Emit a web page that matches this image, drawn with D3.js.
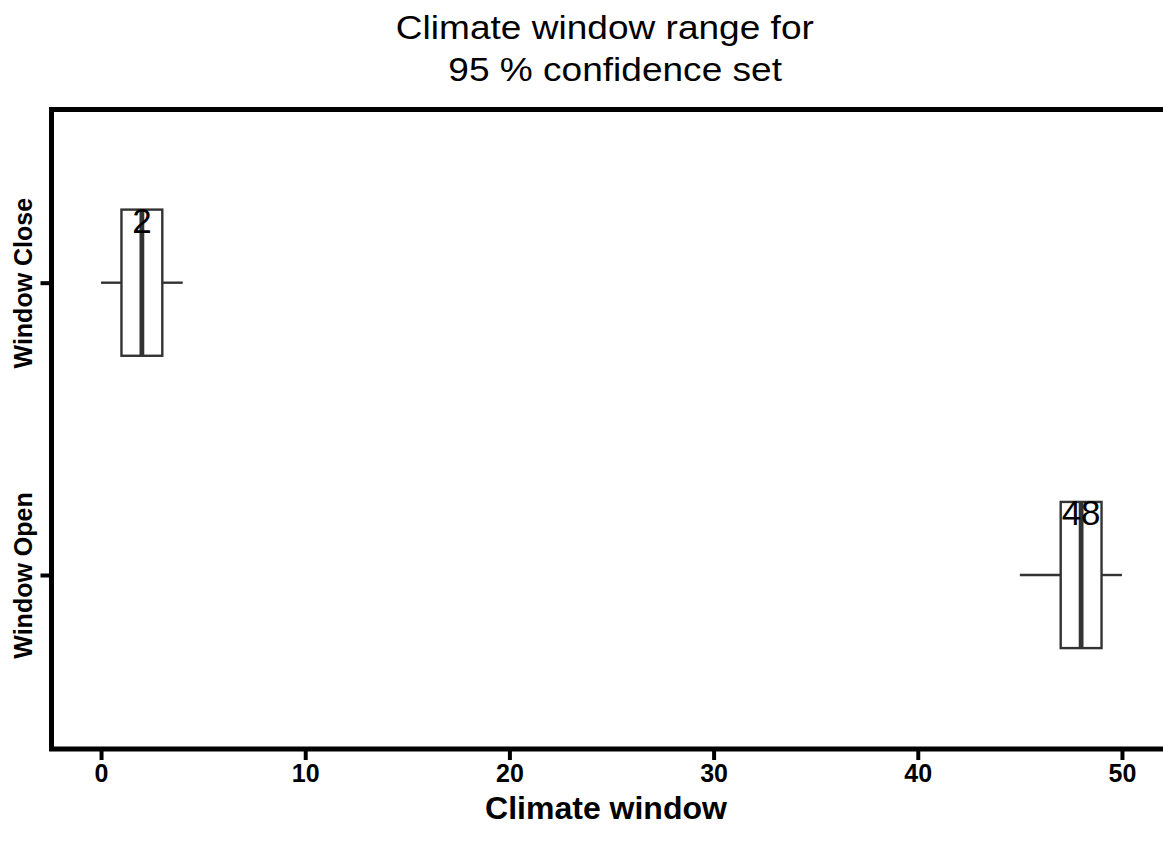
<!DOCTYPE html>
<html>
<head>
<meta charset="utf-8">
<script src="https://cdn.jsdelivr.net/npm/d3@7"></script>
<style>
  html, body { margin: 0; padding: 0; background: #fff; }
  svg { display: block; font-family: "Liberation Sans", Arial, Helvetica, sans-serif; }
  .pre { white-space: pre; }
</style>
</head>
<body>
<svg id="chart" width="1163" height="842"></svg>
<script>
// Window categories (top to bottom)
const categories = ["Window Close", "Window Open"];
// Box summary per category: whisker low, lower hinge, median, upper hinge, whisker high
const whiskerLow  = [0, 45];
const lowerHinge  = [1, 47];
const medians     = [2, 48];
const upperHinge  = [3, 49];
const whiskerHigh = [4, 50];
const xTicks = [0, 10, 20, 30, 40, 50];

const titleLines = ["Climate window range for ", " 95 % confidence set"];
const xTitle = "Climate window";

const svg = d3.select("#chart");

const panel = { left: 51.5, top: 109.5, right: 1175, bottom: 749 };

const x = d3.scaleLinear().domain([-2.5, 52.5]).range([50, 1173]);
const y = d3.scalePoint().domain(categories).range([107.3, 750.4]).padding(0.6);
const boxH = y.step() * 0.5;

const rows = categories.map((c, i) => ({
  cat: c, lo: whiskerLow[i], q1: lowerHinge[i], med: medians[i],
  q3: upperHinge[i], hi: whiskerHigh[i]
}));

// Title, slightly widened glyphs
const sx = 1.09;
svg.append("g").attr("transform", `scale(${sx},1)`)
  .selectAll("text").data(titleLines).join("text")
  .attr("class", "pre")
  .attr("x", 610 / sx).attr("y", (d, i) => 39 + i * 42.5)
  .attr("text-anchor", "middle")
  .attr("font-size", 34).attr("fill", "#000")
  .text(d => d);

// Boxes
const g = svg.append("g");
rows.forEach(r => {
  const cy = y(r.cat);
  // whiskers
  g.append("line").attr("x1", x(r.lo)).attr("x2", x(r.q1)).attr("y1", cy).attr("y2", cy)
    .attr("stroke", "#333").attr("stroke-width", 2.4);
  g.append("line").attr("x1", x(r.q3)).attr("x2", x(r.hi)).attr("y1", cy).attr("y2", cy)
    .attr("stroke", "#333").attr("stroke-width", 2.4);
  // box
  g.append("rect").attr("x", x(r.q1)).attr("y", cy - boxH / 2)
    .attr("width", x(r.q3) - x(r.q1)).attr("height", boxH)
    .attr("fill", "#fff").attr("stroke", "#333").attr("stroke-width", 2.4);
  // median
  g.append("line").attr("x1", x(r.med)).attr("x2", x(r.med))
    .attr("y1", cy - boxH / 2).attr("y2", cy + boxH / 2)
    .attr("stroke", "#333").attr("stroke-width", 4.8);
  // median label
  g.append("text").attr("x", x(r.med)).attr("y", cy - 50)
    .attr("text-anchor", "middle").attr("font-size", 35).attr("fill", "#000")
    .text(r.med);
});

// Panel border (left, top, bottom)
svg.append("path")
  .attr("d", `M${panel.right},${panel.top}H${panel.left}V${panel.bottom}H${panel.right}`)
  .attr("fill", "none").attr("stroke", "#000").attr("stroke-width", 5);

// X axis
const xAxis = d3.axisBottom(x).tickValues(xTicks).tickSize(9).tickPadding(4);
const gx = svg.append("g").attr("transform", `translate(0,${panel.bottom + 2})`).call(xAxis);
gx.select(".domain").remove();
gx.selectAll(".tick line").attr("stroke", "#000").attr("stroke-width", 4);
gx.selectAll(".tick text").attr("font-size", 25).attr("font-weight", "bold")
  .attr("fill", "#000").attr("font-family", "Liberation Sans, Arial, sans-serif");

// Y axis
const yAxis = d3.axisLeft(y).tickSize(9).tickPadding(0);
const gy = svg.append("g").attr("transform", `translate(${panel.left - 2},0)`).call(yAxis);
gy.select(".domain").remove();
gy.selectAll(".tick line").attr("stroke", "#000").attr("stroke-width", 4);
gy.selectAll(".tick text")
  .attr("font-size", 25).attr("font-weight", "bold").attr("fill", "#000")
  .attr("font-family", "Liberation Sans, Arial, sans-serif")
  .attr("text-anchor", "middle").attr("dy", null)
  .attr("x", null)
  .attr("transform", "translate(-27,0) rotate(-90)")
  .attr("dominant-baseline", "central");

// X title
svg.append("text").attr("x", 606).attr("y", 819)
  .attr("text-anchor", "middle").attr("font-size", 32).attr("font-weight", "bold")
  .attr("fill", "#000").text(xTitle);
</script>
</body>
</html>
